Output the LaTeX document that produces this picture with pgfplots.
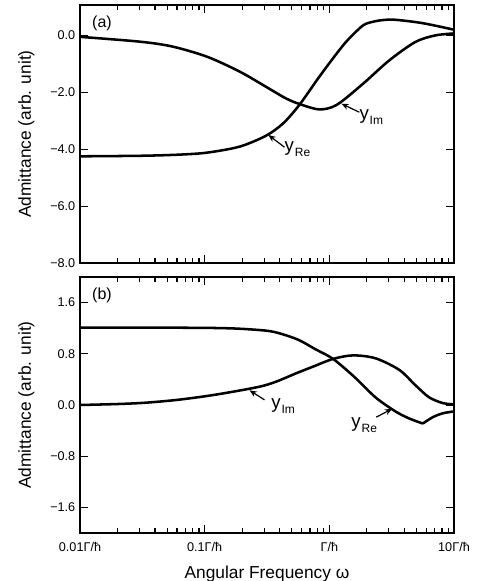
\documentclass[border=0pt]{standalone}
\usepackage{fontspec}
\setmainfont{Liberation Sans}
\usepackage{pgfplots}
\pgfplotsset{compat=1.18}
\usetikzlibrary{arrows.meta}

\newcommand{\lab}[1]{y\kern0.6pt\raisebox{-0.5ex}{\fontsize{9}{10}\selectfont #1}}

\begin{document}
\begin{tikzpicture}
% (b) lower panel
\begin{axis}[
  at={(0,0)}, scale only axis, width=280.5pt, height=192pt,
  xmode=log, xmin=0.01, xmax=10,
  xtick={0.01,0.1,1,10},
  tick pos=both, tick align=inside,
  xticklabel pos=lower, yticklabel pos=left,
  major tick length=6pt, minor tick length=3.6pt,
  axis line style={line width=1.4pt},
  tick style={black, line width=0.9pt},
  ticklabel style={font=\fontsize{9.5}{11}\selectfont},
  xticklabel style={yshift=-3.5pt},
  xlabel style={font=\fontsize{13}{15}\selectfont},
  ylabel style={font=\fontsize{13}{15}\selectfont},
  ylabel shift=5pt, xlabel shift=4pt,
  ylabel={Admittance (arb. unit)},
  ymin=-2, ymax=2,
  ytick={-1.6,-0.8,0,0.8,1.6},
  yticklabels={−1.6,−0.8,0.0,0.8,1.6},
  xticklabels={0.01Γ/ħ,0.1Γ/ħ,Γ/ħ,10Γ/ħ},
  xlabel={Angular Frequency ω},
  ]
% y_Re
\addplot[black, line width=1.9pt, smooth] coordinates {
  (0.01,1.21) (0.03162,1.21) (0.1,1.205) (0.1585,1.198) (0.2188,1.185)
  (0.3162,1.16) (0.3981,1.12) (0.5623,1.02) (0.7762,0.87) (1.072,0.72)
  (1.585,0.44) (2.344,0.12) (3.388,-0.10) (4.365,-0.21) (5.623,-0.29)
};
\addplot[black, line width=1.9pt, smooth] coordinates {
  (5.623,-0.29) (6.761,-0.19) (8.128,-0.13) (10,-0.10)
};
% y_Im
\addplot[black, line width=1.9pt, smooth] coordinates {
  (0.01,0.00) (0.01995,0.015) (0.03311,0.035) (0.06026,0.08) (0.1122,0.15)
  (0.2089,0.24) (0.2951,0.30) (0.3802,0.37) (0.5495,0.50) (0.7413,0.60)
  (1.072,0.72) (1.549,0.775) (2.344,0.73) (3.631,0.55) (4.898,0.31)
  (6.310,0.12) (8.128,0.03) (10,0.01)
};
\node[anchor=north west, font=\fontsize{12}{14}\selectfont] at (rel axis cs:0.02,0.975) {(b)};
\node[anchor=west, font=\fontsize{14}{16}\selectfont] at (axis cs:0.315,-0.01) {\lab{Im}};
\draw[-{Stealth[length=5.5pt,width=4.5pt]}, line width=0.9pt] (axis cs:0.302,0.08) -- (axis cs:0.229,0.23);
\node[font=\fontsize{14}{16}\selectfont] at (axis cs:1.905,-0.31) {\lab{Re}};
\draw[-{Stealth[length=5.5pt,width=4.5pt]}, line width=0.9pt] (axis cs:2.38,-0.19) -- (axis cs:3.19,-0.06);
\end{axis}

% (a) upper panel
\begin{axis}[
  at={(0,202.5pt)}, scale only axis, width=280.5pt, height=193.5pt,
  xmode=log, xmin=0.01, xmax=10,
  xtick={0.01,0.1,1,10},
  tick pos=both, tick align=inside,
  xticklabel pos=lower, yticklabel pos=left,
  major tick length=6pt, minor tick length=3.6pt,
  axis line style={line width=1.4pt},
  tick style={black, line width=0.9pt},
  ticklabel style={font=\fontsize{9.5}{11}\selectfont},
  ylabel style={font=\fontsize{13}{15}\selectfont},
  ylabel shift=5pt,
  ylabel={Admittance (arb. unit)},
  ymin=-8, ymax=1.07,
  ytick={-8,-6,-4,-2,0},
  yticklabels={−8.0,−6.0,−4.0,−2.0,0.0},
  xticklabels={},
  ]
% y_Im
\addplot[black, line width=1.9pt, smooth] coordinates {
  (0.01,-0.05) (0.03020,-0.22) (0.05495,-0.39) (0.1047,-0.75) (0.1905,-1.27)
  (0.3090,-1.80) (0.4467,-2.21) (0.5754,-2.41) (0.8318,-2.60) (1.148,-2.44)
  (1.862,-1.70) (3.020,-0.88) (4.898,-0.23) (7.079,0.00) (10,0.07)
};
% y_Re
\addplot[black, line width=1.9pt, smooth] coordinates {
  (0.01,-4.25) (0.03162,-4.23) (0.06310,-4.19) (0.1047,-4.12) (0.1905,-3.91)
  (0.3090,-3.53) (0.4266,-3.09) (0.5754,-2.44) (0.8318,-1.45) (1.148,-0.63)
  (1.413,-0.15) (1.862,0.35) (2.239,0.48) (2.692,0.54) (3.388,0.55)
  (5.623,0.43) (10,0.20)
};
\node[anchor=north west, font=\fontsize{12}{14}\selectfont] at (rel axis cs:0.02,0.975) {(a)};
\node[font=\fontsize{14}{16}\selectfont] at (axis cs:2.17,-2.88) {\lab{Im}};
\draw[-{Stealth[length=5.5pt,width=4.5pt]}, line width=0.9pt] (axis cs:1.74,-2.70) -- (axis cs:1.25,-2.40);
\node[font=\fontsize{14}{16}\selectfont] at (axis cs:0.555,-4.0) {\lab{Re}};
\draw[-{Stealth[length=5.5pt,width=4.5pt]}, line width=0.9pt] (axis cs:0.437,-3.93) -- (axis cs:0.324,-3.50);
\end{axis}

\pgfresetboundingbox
\path[use as bounding box] (-60pt,-36pt) rectangle (297.75pt,399.75pt);
\end{tikzpicture}
\end{document}
